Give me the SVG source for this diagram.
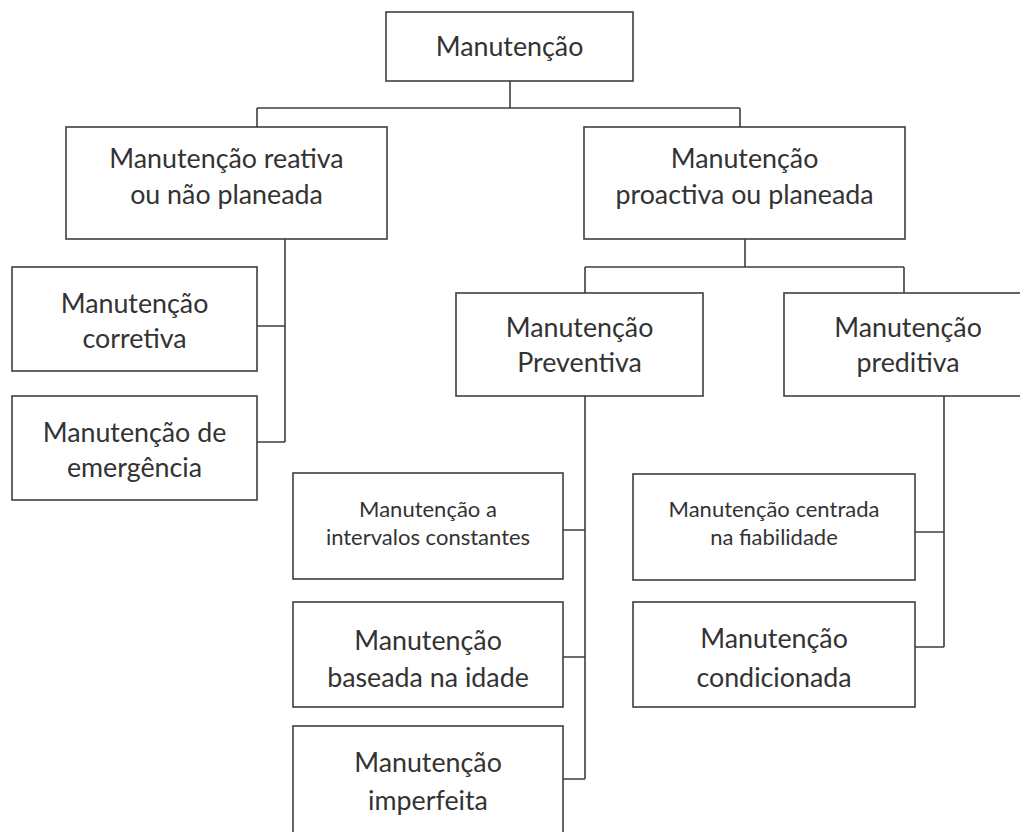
<svg xmlns="http://www.w3.org/2000/svg" width="1020" height="832" viewBox="0 0 1020 832">
<style>
  .box { fill: #ffffff; stroke: #3f3f3f; stroke-width: 1.6; }
  .lbl { font-family: Lato, "Open Sans", "Liberation Sans", sans-serif; font-size: 26.8px; fill: #333333; text-anchor: middle; }
  .sm { font-size: 22px; }
  .con { fill: none; stroke: #3f3f3f; stroke-width: 1.6; }
</style>
<rect x="0" y="0" width="1020" height="832" fill="#ffffff"/>
<g id="connectors">
  <path class="con" d="M510,81 V108 M257,108 H740 M257,108 V127 M740,108 V127"/>
  <path class="con" d="M285,239 V442 M257,326 H285 M257,442 H285"/>
  <path class="con" d="M745,239 V267 M585,267 H904 M904,267 V293"/>
  <path class="con" d="M585,267 V293 M585,396 V779 M563,530 H585 M563,657 H585 M563,779 H585"/>
  <path class="con" d="M944,396 V647 M915,532 H944 M915,647 H944"/>
</g>
<g id="n-manutencao">
  <rect class="box" x="386" y="12" width="247" height="69"/>
  <text class="lbl" x="509.5" y="56">Manutenção</text>
</g>
<g id="n-reativa">
  <rect class="box" x="66" y="127" width="321" height="112"/>
  <text class="lbl" x="226.5" y="168">Manutenção reativa</text>
  <text class="lbl" x="226.5" y="204">ou não planeada</text>
</g>
<g id="n-proactiva">
  <rect class="box" x="584" y="127" width="321" height="112"/>
  <text class="lbl" x="744.5" y="168">Manutenção</text>
  <text class="lbl" x="744.5" y="204">proactiva ou planeada</text>
</g>
<g id="n-corretiva">
  <rect class="box" x="12" y="267" width="245" height="104"/>
  <text class="lbl" x="134.5" y="313">Manutenção</text>
  <text class="lbl" x="134.5" y="348">corretiva</text>
</g>
<g id="n-emergencia">
  <rect class="box" x="12" y="396" width="245" height="104"/>
  <text class="lbl" x="134.5" y="442">Manutenção de</text>
  <text class="lbl" x="134.5" y="477">emergência</text>
</g>
<g id="n-preventiva">
  <rect class="box" x="456" y="293" width="247" height="103"/>
  <text class="lbl" x="579.5" y="337">Manutenção</text>
  <text class="lbl" x="579.5" y="372">Preventiva</text>
</g>
<g id="n-preditiva">
  <rect class="box" x="784" y="293" width="248" height="103"/>
  <text class="lbl" x="908" y="337">Manutenção</text>
  <text class="lbl" x="908" y="372">preditiva</text>
</g>
<g id="n-intervalos">
  <rect class="box" x="293" y="473" width="270" height="106"/>
  <text class="lbl sm" x="428" y="517">Manutenção a</text>
  <text class="lbl sm" x="428" y="545">intervalos constantes</text>
</g>
<g id="n-idade">
  <rect class="box" x="293" y="602" width="270" height="105"/>
  <text class="lbl" x="428" y="650">Manutenção</text>
  <text class="lbl" x="428" y="687">baseada na idade</text>
</g>
<g id="n-imperfeita">
  <rect class="box" x="293" y="726" width="270" height="108"/>
  <text class="lbl" x="428" y="772">Manutenção</text>
  <text class="lbl" x="428" y="810">imperfeita</text>
</g>
<g id="n-centrada">
  <rect class="box" x="633" y="474" width="282" height="106"/>
  <text class="lbl sm" x="774" y="517">Manutenção centrada</text>
  <text class="lbl sm" x="774" y="545">na fiabilidade</text>
</g>
<g id="n-condicionada">
  <rect class="box" x="633" y="602" width="282" height="105"/>
  <text class="lbl" x="774" y="648">Manutenção</text>
  <text class="lbl" x="774" y="687">condicionada</text>
</g>
</svg>
